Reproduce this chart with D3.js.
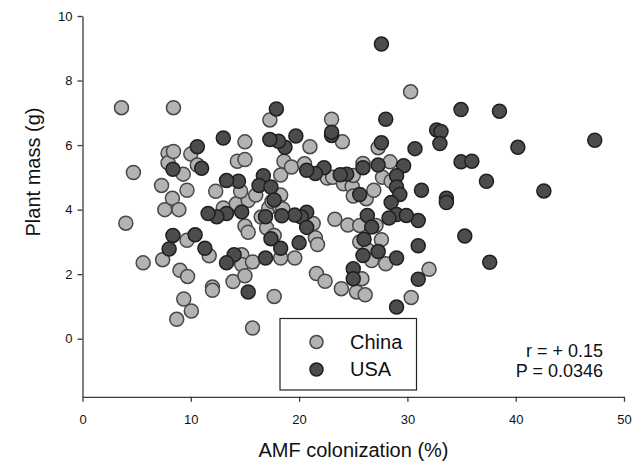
<!DOCTYPE html>
<html>
<head>
<meta charset="utf-8">
<script src="https://cdn.jsdelivr.net/npm/d3@7"></script>
<style>
  body { margin: 0; background: #fff; }
  text { font-family: "Liberation Sans", Arial, sans-serif; fill: #111; }
  .axis path, .axis line { stroke: #3a3a3a; stroke-width: 1.3; }
  .axis text { font-size: 13px; fill: #111; }
</style>
</head>
<body>
<script>
// China samples: [AMF colonization %, plant mass g]
const china = [
  [3.6, 7.16], [8.4, 7.16], [4.0, 3.58], [4.7, 5.15], [5.6, 2.35], [7.3, 4.75], [7.4, 2.45],
  [7.6, 4.0], [7.9, 5.75], [7.9, 5.45], [8.4, 5.8], [8.3, 4.35], [8.9, 4.0], [9.0, 2.12],
  [9.3, 5.1], [9.35, 1.23], [8.7, 0.6], [9.65, 4.6], [9.65, 3.05], [9.7, 1.93], [10.05, 0.86],
  [10.0, 5.72], [10.6, 5.38], [11.7, 2.57], [12.0, 1.6], [12.0, 1.5], [12.3, 4.57], [13.0, 4.05],
  [13.9, 1.77], [14.3, 5.5], [14.2, 4.18], [14.7, 2.6], [14.7, 2.3], [15.0, 6.1], [15.0, 5.55],
  [15.0, 3.49], [15.0, 1.95], [15.3, 3.3], [15.3, 4.28], [15.7, 2.38], [15.7, 0.33], [14.6, 4.57],
  [16.0, 4.45], [16.5, 3.77], [17.3, 6.78], [17.0, 3.43], [17.7, 1.31], [17.7, 3.2], [17.2, 4.05],
  [17.5, 4.25], [18.3, 4.45], [18.2, 4.08], [18.5, 4.02], [18.3, 5.07], [18.3, 2.5], [18.6, 5.5],
  [19.3, 5.32], [19.6, 2.5], [21.0, 5.95], [20.5, 5.42], [21.3, 3.57], [21.5, 3.13], [21.7, 2.92],
  [21.6, 2.02], [22.4, 1.78], [22.6, 4.98], [23.0, 6.8], [24.0, 6.1], [23.3, 3.7], [23.1, 5.0],
  [24.1, 4.8], [24.5, 3.52], [23.9, 1.55], [24.9, 4.72], [25.0, 4.42], [25.0, 5.06], [25.3, 1.45],
  [25.6, 3.51], [25.6, 3.0], [25.8, 1.86], [25.9, 5.43], [26.2, 4.34], [26.4, 2.73], [26.1, 1.36],
  [26.7, 2.42], [26.9, 4.6], [27.3, 5.92], [27.7, 5.0], [27.1, 3.51], [27.6, 3.07], [28.0, 2.32],
  [28.4, 5.48], [28.5, 4.88], [30.3, 7.65], [30.35, 1.28], [32.0, 2.15]
];

// USA samples
const usa = [
  [27.6, 9.13], [17.9, 7.12], [28.0, 6.8], [34.95, 7.1], [38.5, 7.05], [47.3, 6.15], [40.2, 5.93],
  [32.7, 6.47], [33.1, 6.42], [33.0, 6.05], [30.7, 5.89], [34.95, 5.48], [35.95, 5.5], [37.3, 4.88],
  [42.6, 4.58], [31.3, 4.6], [33.6, 4.35], [33.6, 4.22], [31.0, 3.66], [35.3, 3.18], [37.6, 2.37],
  [31.0, 2.88], [31.0, 1.84], [29.0, 0.98], [29.0, 2.5], [29.65, 5.36], [29.0, 5.05], [29.0, 4.7],
  [29.3, 4.47], [28.5, 4.22], [29.0, 3.85], [29.9, 3.82], [28.3, 3.74], [27.6, 6.07], [27.3, 5.38],
  [27.3, 2.7], [26.3, 3.82], [26.7, 3.46], [26.0, 3.08], [25.9, 2.58], [25.9, 5.3], [25.6, 4.47],
  [25.0, 2.17], [25.0, 1.86], [24.4, 5.1], [23.8, 5.08], [23.0, 6.3], [23.0, 6.4], [22.3, 5.3],
  [21.5, 5.12], [20.7, 5.22], [20.7, 3.92], [20.2, 3.77], [19.6, 3.83], [20.7, 3.45], [20.0, 2.97],
  [19.7, 6.28], [18.7, 5.93], [18.1, 6.12], [17.3, 6.17], [16.7, 5.05], [16.3, 4.75], [17.4, 4.7],
  [17.7, 4.3], [16.9, 3.78], [18.4, 3.81], [17.4, 3.1], [18.3, 2.8], [16.9, 2.5], [15.3, 1.45],
  [14.7, 3.93], [14.4, 4.88], [13.3, 4.9], [13.3, 3.88], [13.0, 6.22], [12.4, 3.78], [11.6, 3.88],
  [11.3, 2.8], [14.0, 2.6], [13.3, 2.35], [10.4, 3.22], [11.0, 5.28], [10.6, 5.95], [8.35, 5.25],
  [8.35, 3.2], [8.0, 2.78]
];

const xTicks = [0, 10, 20, 30, 40, 50];
const yTicks = [0, 2, 4, 6, 8, 10];
const groups = ['China', 'USA'];
const stats = ['r = + 0.15', 'P = 0.0346'];

const width = 640;
const height = 465;
const fills = { China: '#b3b3b3', USA: '#4c4c4c' };
const strokes = { China: '#474747', USA: '#1f1f1f' };

const svg = d3.select('body')
    .append('svg')
    .attr('width', width)
    .attr('height', height);

const x = d3.scaleLinear().domain([0, 50]).range([82.5, 624]);
const y = d3.scaleLinear().domain([-1.8, 10]).range([396.8, 16]);

svg.append('g')
    .attr('class', 'axis')
    .attr('transform', `translate(0,${y(-1.8)})`)
    .call(d3.axisBottom(x).tickValues(xTicks).tickSize(5).tickSizeOuter(0).tickPadding(13));

svg.append('g')
    .attr('class', 'axis')
    .attr('transform', `translate(${x(0)},0)`)
    .call(d3.axisLeft(y).tickValues(yTicks).tickSize(5).tickSizeOuter(0).tickPadding(5));

// points: china first, usa drawn on top
const pts = china.map(d => ({ g: 'China', v: d })).concat(usa.map(d => ({ g: 'USA', v: d })));

svg.append('g')
    .selectAll('circle')
    .data(pts)
    .enter()
    .append('circle')
        .attr('cx', d => x(d.v[0]))
        .attr('cy', d => y(d.v[1]))
        .attr('r', 7)
        .attr('fill', d => fills[d.g])
        .attr('stroke', d => strokes[d.g])
        .attr('stroke-width', 1.5);

// legend
const legend = svg.append('g').attr('transform', 'translate(280,318.5)');
legend.append('rect')
    .attr('width', 136.5)
    .attr('height', 71.5)
    .attr('fill', '#fff')
    .attr('stroke', '#222')
    .attr('stroke-width', 1.2);

groups.forEach((g, i) => {
    legend.append('circle')
        .attr('cx', 36.5)
        .attr('cy', 23.5 + i * 27.5)
        .attr('r', 6.5)
        .attr('fill', fills[g])
        .attr('stroke', strokes[g])
        .attr('stroke-width', 1.5);
    legend.append('text')
        .attr('x', 70)
        .attr('y', 30.5 + i * 27)
        .style('font-size', '20px')
        .text(g);
});

stats.forEach((s, i) => {
    svg.append('text')
        .attr('x', 603)
        .attr('y', 357 + i * 20)
        .attr('text-anchor', 'end')
        .style('font-size', '18px')
        .text(s);
});

svg.append('text')
    .attr('x', 353.5)
    .attr('y', 456.5)
    .attr('text-anchor', 'middle')
    .style('font-size', '20px')
    .text('AMF colonization (%)');

svg.append('text')
    .attr('transform', 'translate(40,172) rotate(-90)')
    .attr('text-anchor', 'middle')
    .style('font-size', '20px')
    .text('Plant mass (g)');
</script>
</body>
</html>
